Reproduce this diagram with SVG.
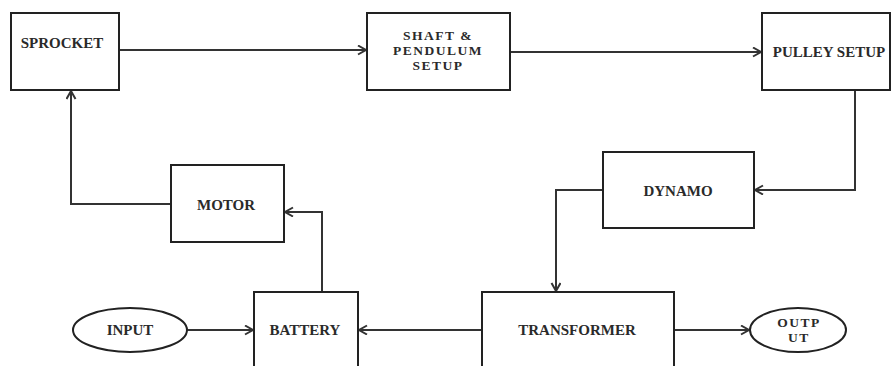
<svg xmlns="http://www.w3.org/2000/svg" width="894" height="366" viewBox="0 0 894 366">
<style>
.box{fill:#fff;stroke:#222;stroke-width:2}
.lbl{font-family:"Liberation Serif","Times New Roman",serif;font-size:15px;font-weight:bold;fill:#2a2a2a;text-anchor:middle}
.sm{font-size:13.5px;letter-spacing:1.5px}
.c{fill:none;stroke:#333;stroke-width:2}
</style>
<defs>
<marker id="ah" markerUnits="userSpaceOnUse" markerWidth="12" markerHeight="12" refX="9" refY="5" orient="auto">
<path d="M1,0.5 L9,5 L1,9.5" fill="none" stroke="#333" stroke-width="2"/>
</marker>
</defs>
<rect width="894" height="366" fill="#fff"/>
<g id="connectors">
<path class="c" d="M119,50 L366,50" marker-end="url(#ah)"/>
<path class="c" d="M510,52 L761,52" marker-end="url(#ah)"/>
<path class="c" d="M855,90 L855,190 L755,190" marker-end="url(#ah)"/>
<path class="c" d="M603,190 L556,190 L556,291" marker-end="url(#ah)"/>
<path class="c" d="M482,330 L359,330" marker-end="url(#ah)"/>
<path class="c" d="M187,330 L253,330" marker-end="url(#ah)"/>
<path class="c" d="M674,330 L749,330" marker-end="url(#ah)"/>
<path class="c" d="M322,292 L322,212 L285,212" marker-end="url(#ah)"/>
<path class="c" d="M171,204 L71,204 L71,91" marker-end="url(#ah)"/>
</g>
<g id="sprocket"><rect class="box" x="11" y="13" width="108" height="77"/><text class="lbl" x="62" y="48">SPROCKET</text></g>
<g id="shaft"><rect class="box" x="367" y="13" width="143" height="77"/><text class="lbl sm" x="438" y="40">SHAFT &amp;</text><text class="lbl sm" x="438" y="55">PENDULUM</text><text class="lbl sm" x="438" y="70">SETUP</text></g>
<g id="pulley"><rect class="box" x="762" y="13" width="128" height="77"/><text class="lbl" x="829" y="57">PULLEY SETUP</text></g>
<g id="dynamo"><rect class="box" x="603" y="152" width="151" height="76"/><text class="lbl" x="678" y="196">DYNAMO</text></g>
<g id="motor"><rect class="box" x="171" y="165" width="113" height="77"/><text class="lbl" x="226" y="210">MOTOR</text></g>
<g id="transformer"><rect class="box" x="482" y="292" width="192" height="80"/><text class="lbl" x="577" y="335">TRANSFORMER</text></g>
<g id="battery"><rect class="box" x="254" y="292" width="104" height="80"/><text class="lbl" x="305" y="335">BATTERY</text></g>
<g id="input"><ellipse class="box" cx="130" cy="330" rx="57" ry="22"/><text class="lbl" x="130" y="335">INPUT</text></g>
<g id="output"><ellipse class="box" cx="798" cy="330" rx="48" ry="22"/><text class="lbl sm" x="799" y="327">OUTP</text><text class="lbl sm" x="799" y="342">UT</text></g>
</svg>
